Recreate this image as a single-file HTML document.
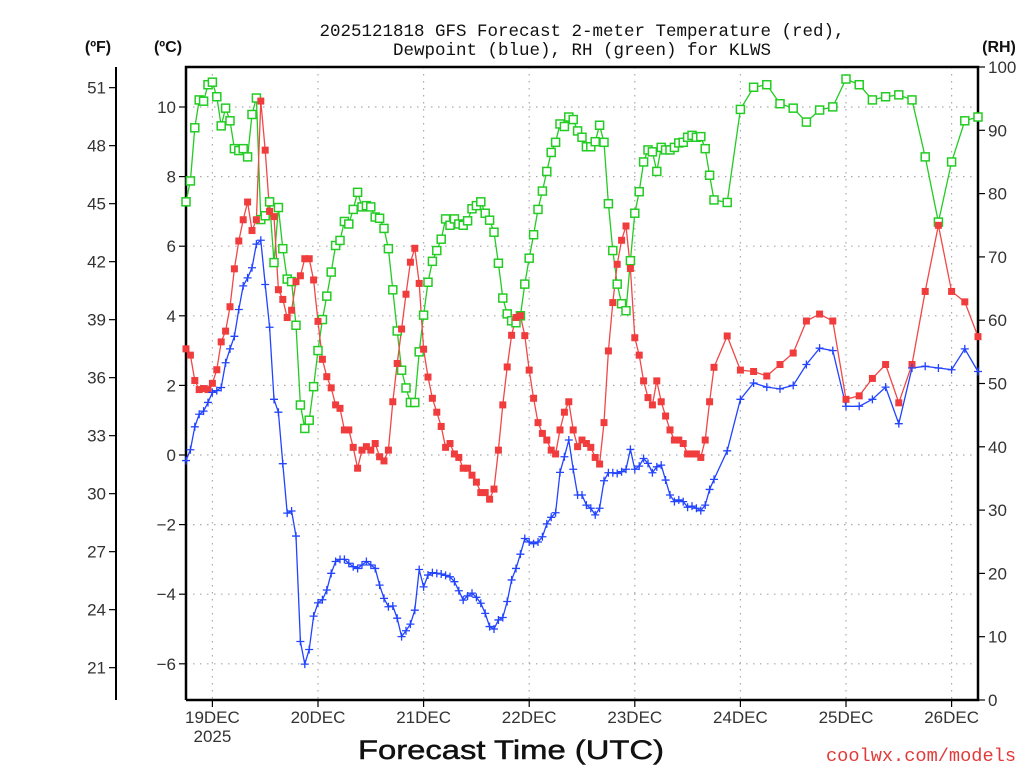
<!DOCTYPE html>
<html><head><meta charset="utf-8"><title>GFS Forecast KLWS</title>
<style>
html,body{margin:0;padding:0;background:#fff;}
svg{display:block;}
text{font-family:"Liberation Sans",sans-serif;}
</style></head>
<body>
<svg id="chart" width="1024" height="768" viewBox="0 0 1024 768" xmlns="http://www.w3.org/2000/svg">
<text x="582" y="36" text-anchor="middle" font-size="17.5" style="font-family:'Liberation Mono',monospace" fill="#111">2025121818 GFS Forecast 2-meter Temperature (red),</text>
<text x="582" y="55" text-anchor="middle" font-size="17.5" style="font-family:'Liberation Mono',monospace" fill="#111">Dewpoint (blue), RH (green) for KLWS</text>
<text x="98" y="52" text-anchor="middle" font-size="16" font-weight="bold" fill="#111">(ºF)</text>
<text x="168" y="52" text-anchor="middle" font-size="16" font-weight="bold" fill="#111">(ºC)</text>
<text x="999" y="52" text-anchor="middle" font-size="16" font-weight="bold" fill="#111">(RH)</text>
<text x="511" y="759" text-anchor="middle" font-size="27" textLength="306" lengthAdjust="spacingAndGlyphs" fill="#111" stroke="#111" stroke-width="0.5">Forecast Time (UTC)</text>
<text x="1016" y="761" text-anchor="end" font-size="18" style="font-family:'Liberation Mono',monospace" fill="#e23a3a" textLength="190" lengthAdjust="spacingAndGlyphs">coolwx.com/models</text>
<g id="grid"></g>
<g id="axes"></g>
<g id="series"></g>
</svg>
<script>
// ---- data ----
const hourlyHours = [];
for (let h = 0; h <= 120; h++) hourlyHours.push(h);
const threeHourlyHours = [123,126,129,132,135,138,141,144,147,150,153,156,159,162,165,168,171,174,177,180];
const hours = hourlyHours.concat(threeHourlyHours);

const temperatureC = [
3.05,2.87,2.14,1.88,1.91,1.88,2.06,2.45,3.25,3.56,
4.26,5.35,6.15,6.76,7.27,6.45,6.76,10.17,8.76,7.0,
6.85,4.75,4.47,3.95,4.16,4.98,5.15,5.64,5.64,5.03,
3.84,2.75,2.25,1.93,1.44,1.34,0.72,0.72,0.22,-0.38,
0.14,0.24,0.14,0.33,-0.05,-0.17,0.14,1.53,2.63,3.62,
4.62,5.54,5.94,4.93,3.04,2.24,1.63,1.23,0.82,0.22,
0.33,0.03,-0.07,-0.38,-0.38,-0.58,-0.78,-1.08,-1.08,-1.27,
-0.98,0.14,1.44,2.53,3.44,3.95,4.0,3.43,2.44,1.63,
0.93,0.62,0.43,0.14,0.03,0.72,1.23,1.53,0.72,0.24,
0.43,0.33,0.22,-0.07,-0.26,0.93,2.99,4.38,5.48,6.17,
6.58,5.36,3.37,2.87,2.13,1.65,1.44,2.13,1.53,1.12,
0.72,0.43,0.43,0.33,0.03,0.03,0.03,-0.07,0.43,1.53,
2.52,
3.42,2.44,2.4,2.27,2.6,2.93,3.85,4.05,3.85,1.6,1.7,2.2,2.6,1.5,2.6,4.7,6.6,4.7,4.4,3.4];

const dewpointC = [
-0.16,0.15,0.81,1.17,1.26,1.51,1.8,1.85,1.94,2.65,
3.05,3.41,4.18,4.86,5.09,5.38,6.06,6.17,4.9,3.67,
1.6,1.23,-0.25,-1.67,-1.61,-2.33,-5.36,-6.01,-5.59,-4.63,
-4.25,-4.16,-3.88,-3.4,-3.06,-3.0,-3.0,-3.11,-3.21,-3.26,
-3.16,-3.06,-3.16,-3.26,-3.74,-4.12,-4.36,-4.34,-4.69,-5.22,
-5.05,-4.86,-4.46,-3.29,-3.79,-3.45,-3.38,-3.4,-3.42,-3.46,
-3.5,-3.64,-3.9,-4.17,-4.05,-3.97,-4.09,-4.26,-4.55,-4.93,
-5.0,-4.74,-4.67,-4.21,-3.59,-3.26,-2.85,-2.4,-2.5,-2.55,
-2.5,-2.35,-1.98,-1.79,-1.66,-0.5,-0.05,0.43,-0.41,-1.15,
-1.15,-1.44,-1.53,-1.72,-1.53,-0.74,-0.51,-0.51,-0.53,-0.48,
-0.41,0.16,-0.41,-0.32,-0.1,-0.24,-0.51,-0.34,-0.29,-0.72,
-1.15,-1.34,-1.29,-1.34,-1.5,-1.47,-1.53,-1.6,-1.44,-0.99,
-0.7,
0.12,1.6,2.07,1.95,1.9,2.0,2.6,3.07,3.0,1.4,1.4,1.6,1.95,0.9,2.5,2.55,2.5,2.45,3.05,2.4];

const relativeHumidity = [
78.7,82,90.4,94.8,94.6,97.2,97.6,95.3,90.7,93.5,
91.5,87.1,86.8,87.1,85.8,92.5,95.1,75.9,76.5,78.7,
69.1,77.8,71.3,66.5,66.1,59.2,46.6,42.9,44.2,49.5,
55.2,60.1,63.8,67.6,71.8,72.6,75.6,75.2,77.5,80.2,
77.9,78.1,77.9,76.3,76.1,74.5,71.3,64.8,58.3,52.1,
49.3,47.0,47.0,55.0,60.8,66.0,69.3,71.0,72.8,76.0,
75.0,76.0,75.2,75.0,75.7,77.6,78.1,78.7,76.9,75.8,
73.9,69.0,63.5,61.0,59.9,59.6,60.7,65.7,69.8,73.5,
77.5,80.4,83.5,86.5,88.1,91.0,90.6,92.1,91.7,89.9,
88.9,87.4,87.4,88.2,90.8,88.1,78.4,71.0,65.7,62.6,
61.5,69.4,76.9,80.3,85.0,86.9,86.6,83.5,87.3,86.9,
86.9,87.3,88.0,88.1,88.9,89.2,88.9,89.0,87.1,82.9,
79.0,
78.6,93.3,96.8,97.2,94.2,93.5,91.3,93.2,93.7,98.1,97.2,94.8,95.3,95.6,94.8,85.8,75.5,85,91.5,92.1];

const celsiusTicks = [-6,-4,-2,0,2,4,6,8,10];
const fahrenheitTicks = [21,24,27,30,33,36,39,42,45,48,51];
const rhTicks = [0,10,20,30,40,50,60,70,80,90,100];
const dayLabels = ["19DEC","20DEC","21DEC","22DEC","23DEC","24DEC","25DEC","26DEC"];
const dayHours = [6,30,54,78,102,126,150,174];

// ---- layout / scales ----
const L = 186, R = 978, T = 67, B = 700;
const xS = h => L + h * (R - L) / 180;
const yC = c => 455 - c * 34.8;
const yF = f => yC((f - 32) / 1.8);
const yRH = r => B - r * (B - T) / 100;

const NS = "http://www.w3.org/2000/svg";
function mk(tag, attrs, parent) {
  const e = document.createElementNS(NS, tag);
  for (const k in attrs) e.setAttribute(k, attrs[k]);
  parent.appendChild(e);
  return e;
}
const grid = document.getElementById('grid');
const axes = document.getElementById('axes');
const series = document.getElementById('series');

// gridlines
celsiusTicks.forEach(c => {
  const g = mk('line', {x1: L, x2: R, y1: yC(c), y2: yC(c), stroke: '#aaa', 'stroke-width': 1.2, 'stroke-dasharray': '1.5 5.5'}, grid);
  
  
});
dayHours.forEach(h => {
  const g = mk('line', {x1: xS(h), x2: xS(h), y1: T, y2: B, stroke: '#aaa', 'stroke-width': 1.2, 'stroke-dasharray': '1.5 5.5'}, grid);
  
  
});

// frame
const frame = mk('path', {d: `M${L},${B} L${L},${T} L${R},${T} L${R},${B} L${L},${B}`, fill: 'none', stroke: '#000', 'stroke-width': 2.5}, axes);


const fAxis = mk('line', {x1: 116, x2: 116, y1: T, y2: B, stroke: '#000', 'stroke-width': 2}, axes);



celsiusTicks.forEach(c => {
  mk('line', {x1: L - 7, x2: L, y1: yC(c), y2: yC(c), stroke: '#000', 'stroke-width': 1.2}, axes);
  const t = mk('text', {x: L - 10, y: yC(c) + 6, 'text-anchor': 'end', 'font-size': 17, fill: '#333'}, axes);
  t.textContent = c < 0 ? '\u2212' + Math.abs(c) : String(c);
  
  
});
fahrenheitTicks.forEach(f => {
  mk('line', {x1: 109, x2: 116, y1: yF(f), y2: yF(f), stroke: '#000', 'stroke-width': 1.2}, axes);
  const t = mk('text', {x: 106, y: yF(f) + 6, 'text-anchor': 'end', 'font-size': 17, fill: '#333'}, axes);
  t.textContent = String(f);
  
  
});
rhTicks.forEach(r => {
  mk('line', {x1: R, x2: R + 7, y1: yRH(r), y2: yRH(r), stroke: '#000', 'stroke-width': 1.2}, axes);
  const t = mk('text', {x: R + 10, y: yRH(r) + 6, 'text-anchor': 'start', 'font-size': 17, fill: '#333'}, axes);
  t.textContent = String(r);
  
  
});
dayHours.forEach((h, i) => {
  mk('line', {x1: xS(h), x2: xS(h), y1: B, y2: B + 7, stroke: '#000', 'stroke-width': 1.2}, axes);
  const t = mk('text', {x: xS(h), y: 723, 'text-anchor': 'middle', 'font-size': 17, fill: '#333'}, axes);
  t.textContent = dayLabels[i];
  
  
});
const yr = mk('text', {x: xS(dayHours[0]), y: 742, 'text-anchor': 'middle', 'font-size': 17, fill: '#333'}, axes);
yr.textContent = '2025';



// series
function drawLine(vals, yfn, color, name) {
  const d = vals.map((v, i) => (i ? 'L' : 'M') + xS(hours[i]).toFixed(1) + ',' + yfn(v).toFixed(1)).join(' ');
  const p = mk('path', {d: d, fill: 'none', stroke: color, 'stroke-width': 1.3}, series);
  
  
}
drawLine(relativeHumidity, yRH, '#22cc22', 'rh-line');
drawLine(temperatureC, yC, '#f04848', 'temperature-line');
drawLine(dewpointC, yC, '#2244ff', 'dewpoint-line');

relativeHumidity.forEach((v, i) => {
  const m = mk('rect', {x: xS(hours[i]) - 4, y: yRH(v) - 4, width: 8, height: 8, fill: '#fff', stroke: '#22cc22', 'stroke-width': 1.5}, series);
  
  
});
temperatureC.forEach((v, i) => {
  const m = mk('rect', {x: xS(hours[i]) - 3.5, y: yC(v) - 3.5, width: 7, height: 7, fill: '#f03c3c'}, series);
  
  
});
dewpointC.forEach((v, i) => {
  const x = xS(hours[i]), y = yC(v);
  const m = mk('path', {d: `M${x - 4},${y} H${x + 4} M${x},${y - 4} V${y + 4}`, stroke: '#2244ff', 'stroke-width': 1.3, fill: 'none'}, series);
  
  
});
</script>
</body></html>
